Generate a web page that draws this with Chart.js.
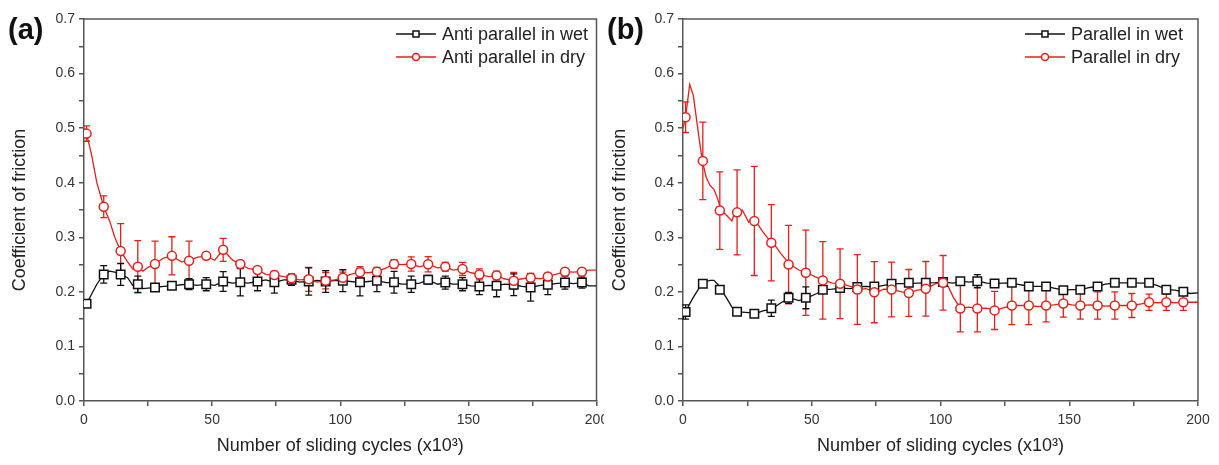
<!DOCTYPE html>
<html>
<head>
<meta charset="utf-8">
<script src="https://cdn.jsdelivr.net/npm/chart.js@4.4.0/dist/chart.umd.min.js"></script>
<style>
body{margin:0;background:#fff;width:1219px;height:465px;position:relative;overflow:hidden;font-family:"Liberation Sans",Arial,sans-serif;}
canvas{position:absolute;top:0;}
#chartA{left:0;}
#chartB{left:604px;}
.tag{position:absolute;font-weight:bold;font-size:29px;line-height:29px;color:#111;}
</style>
</head>
<body>
<canvas id="chartA" width="604" height="465"></canvas>
<canvas id="chartB" width="615" height="465"></canvas>
<div class="tag" style="left:8px;top:15px">(a)</div>
<div class="tag" style="left:607px;top:15px">(b)</div>
<script>
// sliding cycles (x10^3) where markers + error bars sit, same for every series
var markerCycles = [1, 7.7, 14.3, 21, 27.7, 34.3, 41, 47.7, 54.3, 61, 67.7, 74.3, 81, 87.7, 94.3,
    101, 107.7, 114.3, 121, 127.7, 134.3, 141, 147.7, 154.3, 161, 167.7, 174.3, 181, 187.7, 194.3];

// (a) anti parallel
var aWetMarks = [0.178, 0.232, 0.232, 0.214, 0.208, 0.211, 0.214, 0.214, 0.219, 0.2175, 0.219, 0.2175, 0.222, 0.219, 0.219,
    0.2205, 0.2175, 0.2205, 0.2175, 0.214, 0.222, 0.217, 0.214, 0.21, 0.211, 0.213, 0.208, 0.213, 0.217, 0.217];
var aWetErr = [0.006, 0.016, 0.02, 0.015, 0.006, 0.006, 0.01, 0.012, 0.018, 0.025, 0.017, 0.02, 0.01, 0.025, 0.02,
    0.02, 0.025, 0.02, 0.02, 0.015, 0.008, 0.012, 0.012, 0.015, 0.02, 0.02, 0.025, 0.018, 0.012, 0.01];
var aDryMarks = [0.49, 0.356, 0.275, 0.246, 0.251, 0.266, 0.257, 0.266, 0.277, 0.251, 0.24, 0.231, 0.225, 0.223, 0.2205,
    0.226, 0.236, 0.237, 0.251, 0.251, 0.2505, 0.246, 0.242, 0.232, 0.23, 0.2205, 0.226, 0.228, 0.237, 0.237];
var aDryErr = [0.014, 0.02, 0.05, 0.048, 0.042, 0.035, 0.036, 0.006, 0.021, 0.006, 0.005, 0.006, 0.008, 0.022, 0.015,
    0.01, 0.01, 0.008, 0.008, 0.013, 0.014, 0.008, 0.012, 0.01, 0.008, 0.015, 0.008, 0.006, 0.006, 0.006];

// (a) full friction traces
var aTraceX = [0, 1, 3, 5, 7.7, 10, 12, 14.3, 17, 19, 21, 23, 25, 27.7, 31, 34.3, 38, 41, 44, 47.7, 51, 54.3, 58, 61, 64,
    67.7, 71, 74.3, 78, 81, 84, 87.7, 91, 94.3, 98, 101, 104, 107.7, 111, 114.3, 118, 121, 124, 127.7, 131, 134.3, 138,
    141, 144, 147.7, 151, 154.3, 158, 161, 164, 167.7, 171, 174.3, 178, 181, 184, 187.7, 191, 194.3, 197, 200];
var aWetTrace = [0.172, 0.178, 0.196, 0.214, 0.232, 0.238, 0.236, 0.232, 0.226, 0.212, 0.214, 0.206, 0.207, 0.208, 0.21,
    0.211, 0.213, 0.214, 0.212, 0.214, 0.212, 0.219, 0.216, 0.2175, 0.216, 0.219, 0.222, 0.2175, 0.222, 0.222, 0.218,
    0.219, 0.221, 0.219, 0.221, 0.2205, 0.219, 0.2175, 0.219, 0.2205, 0.217, 0.2175, 0.214, 0.214, 0.216, 0.222, 0.214,
    0.217, 0.214, 0.214, 0.211, 0.21, 0.212, 0.211, 0.214, 0.213, 0.21, 0.208, 0.212, 0.213, 0.215, 0.217, 0.215, 0.217,
    0.211, 0.211];
var aDryTrace = [0.50, 0.49, 0.45, 0.40, 0.356, 0.33, 0.30, 0.275, 0.255, 0.242, 0.246, 0.238, 0.245, 0.251, 0.262,
    0.266, 0.255, 0.257, 0.263, 0.266, 0.258, 0.277, 0.258, 0.251, 0.243, 0.24, 0.232, 0.231, 0.228, 0.225, 0.222,
    0.223, 0.218, 0.2205, 0.222, 0.226, 0.232, 0.236, 0.235, 0.237, 0.244, 0.251, 0.25, 0.251, 0.246, 0.2505, 0.244,
    0.246, 0.24, 0.242, 0.235, 0.232, 0.228, 0.23, 0.224, 0.2205, 0.224, 0.226, 0.224, 0.228, 0.232, 0.237, 0.236,
    0.237, 0.24, 0.24];

// (b) parallel
var bWetMarks = [0.163, 0.215, 0.204, 0.1635, 0.160, 0.17, 0.189, 0.189, 0.204, 0.207, 0.209, 0.21, 0.215, 0.2166, 0.2166,
    0.218, 0.2195, 0.2195, 0.2153, 0.2166, 0.21, 0.21, 0.203, 0.204, 0.21, 0.2166, 0.2166, 0.2166, 0.204, 0.2];
var bWetErr = [0.013, 0, 0, 0, 0, 0.015, 0.01, 0.02, 0, 0, 0, 0, 0, 0, 0,
    0, 0, 0.012, 0, 0, 0, 0, 0, 0, 0, 0, 0, 0, 0, 0];
var bDryMarks = [0.52, 0.44, 0.349, 0.3457, 0.33, 0.29, 0.25, 0.235, 0.221, 0.2148, 0.2043, 0.1994, 0.2043, 0.198, 0.2056,
    0.2166, 0.1696, 0.1696, 0.166, 0.175, 0.175, 0.175, 0.1787, 0.175, 0.175, 0.175, 0.175, 0.181, 0.181, 0.181];
var bDryErr = [0.028, 0.071, 0.071, 0.078, 0.1, 0.07, 0.072, 0.078, 0.071, 0.064, 0.064, 0.056, 0.05, 0.043, 0.05,
    0.05, 0.043, 0.043, 0.035, 0.035, 0.035, 0.03, 0.025, 0.025, 0.025, 0.025, 0.022, 0.015, 0.015, 0.015];

var bTraceX = [0, 1, 2.6, 4, 6, 7.5, 9, 10.5, 12, 13.5, 14.8, 17, 19, 20, 21.6, 23, 25.5, 27, 28.2, 31, 33, 35, 38, 41.6,
    45, 48.2, 52, 55, 58, 61.6, 65, 68, 71, 75, 78, 81.5, 85, 88, 91, 94.7, 98, 101, 103, 105, 107.8, 111, 114.5, 118,
    121.4, 124, 127.8, 131, 134.5, 138, 141, 144, 148, 151, 154.5, 158, 161, 164, 168, 171, 174.5, 178, 181, 184, 188,
    191, 194.5, 197, 200];
var bWetTrace = [0.15, 0.163, 0.178, 0.19, 0.205, 0.215, 0.219, 0.221, 0.221, 0.214, 0.204, 0.188, 0.172, 0.166, 0.1635,
    0.163, 0.162, 0.161, 0.160, 0.165, 0.167, 0.17, 0.18, 0.189, 0.184, 0.189, 0.197, 0.204, 0.205, 0.207, 0.206, 0.209,
    0.21, 0.209, 0.212, 0.215, 0.215, 0.215, 0.216, 0.2166, 0.217, 0.218, 0.217, 0.216, 0.2195, 0.218, 0.2195, 0.216,
    0.2153, 0.216, 0.2166, 0.213, 0.21, 0.21, 0.21, 0.207, 0.203, 0.204, 0.204, 0.208, 0.21, 0.214, 0.2166, 0.2166,
    0.2166, 0.216, 0.2166, 0.212, 0.204, 0.203, 0.2, 0.197, 0.198];
var bDryTrace = [0.50, 0.52, 0.58, 0.56, 0.49, 0.44, 0.41, 0.395, 0.388, 0.37, 0.349, 0.34, 0.33, 0.345, 0.345, 0.35,
    0.328, 0.336, 0.33, 0.31, 0.298, 0.29, 0.27, 0.25, 0.24, 0.235, 0.226, 0.221, 0.216, 0.215, 0.21, 0.204, 0.206,
    0.199, 0.205, 0.204, 0.2, 0.198, 0.203, 0.2056, 0.215, 0.2166, 0.21, 0.19, 0.1696, 0.172, 0.1696, 0.17, 0.166, 0.17,
    0.175, 0.175, 0.175, 0.173, 0.175, 0.176, 0.1787, 0.176, 0.175, 0.176, 0.175, 0.174, 0.175, 0.175, 0.175, 0.178,
    0.181, 0.18, 0.181, 0.18, 0.181, 0.181, 0.181];

var RED = "#e3201c";
var BLACK = "#111111";
var AXIS = "#555555";

Chart.defaults.font.family = '"Liberation Sans", Arial, sans-serif';

function pts(xs, ys){
    return xs.map(function(x, i){ return {x: x, y: ys[i]}; });
}

// vertical error bars with caps, drawn under the markers
var errorBars = {
    id: "errorBars",
    beforeDatasetsDraw: function(chart){
        var ctx = chart.ctx, xs = chart.scales.x, ys = chart.scales.y;
        chart.data.datasets.forEach(function(ds){
            if(!ds.errors) return;
            ctx.save();
            ctx.strokeStyle = ds.borderColor;
            ctx.lineWidth = 1.3;
            ds.data.forEach(function(p, i){
                var e = ds.errors[i];
                if(!e) return;
                var px = xs.getPixelForValue(p.x);
                var top = ys.getPixelForValue(p.y + e);
                var bot = ys.getPixelForValue(p.y - e);
                ctx.beginPath();
                ctx.moveTo(px, top); ctx.lineTo(px, bot);
                ctx.moveTo(px - 3.5, top); ctx.lineTo(px + 3.5, top);
                ctx.moveTo(px - 3.5, bot); ctx.lineTo(px + 3.5, bot);
                ctx.stroke();
            });
            ctx.restore();
        });
    }
};

// top + right border of the plot box
var frame = {
    id: "frame",
    beforeDatasetsDraw: function(chart){
        var a = chart.chartArea, ctx = chart.ctx;
        ctx.save();
        ctx.strokeStyle = AXIS;
        ctx.lineWidth = 1.5;
        ctx.beginPath();
        ctx.moveTo(a.left, a.top);
        ctx.lineTo(a.right, a.top);
        ctx.lineTo(a.right, a.bottom);
        ctx.stroke();
        ctx.restore();
    }
};

// legend with line + marker like the origin plot
var lineLegend = {
    id: "lineLegend",
    afterDraw: function(chart, args, opts){
        var ctx = chart.ctx;
        var items = chart.data.datasets.filter(function(ds){ return ds.legendRow !== undefined; });
        items.sort(function(p, q){ return p.legendRow - q.legendRow; });
        ctx.save();
        ctx.font = '18px "Liberation Sans", Arial, sans-serif';
        ctx.textBaseline = "middle";
        items.forEach(function(ds, i){
            var y = chart.chartArea.top + 15 + i * 23;
            var tx = opts.textX;
            ctx.strokeStyle = ds.borderColor;
            ctx.lineWidth = 1.5;
            ctx.beginPath();
            ctx.moveTo(tx - 46, y); ctx.lineTo(tx - 6, y);
            ctx.stroke();
            ctx.fillStyle = "#fff";
            ctx.beginPath();
            if(ds.pointStyle === "rect") ctx.rect(tx - 29, y - 3, 6, 6);
            else ctx.arc(tx - 26, y, 3.5, 0, Math.PI * 2);
            ctx.fill();
            ctx.stroke();
            ctx.fillStyle = "#222";
            ctx.fillText(ds.label, tx, y + 1);
        });
        ctx.restore();
    }
};

function makeChart(id, traceX, wetTrace, dryTrace, wetMarks, wetErr, dryMarks, dryErr, names, cfg){
    return new Chart(document.getElementById(id), {
        type: "line",
        data: {
            datasets: [
                {label: names[1], data: pts(markerCycles, dryMarks), errors: dryErr, legendRow: 1,
                 showLine: false, pointStyle: "circle", pointRadius: 4.5, pointBorderWidth: 1.5,
                 borderColor: RED, backgroundColor: "#fff", pointBackgroundColor: "#fff"},
                {label: names[0], data: pts(markerCycles, wetMarks), errors: wetErr, legendRow: 0,
                 showLine: false, pointStyle: "rect", pointRadius: 6, pointBorderWidth: 1.5,
                 borderColor: BLACK, backgroundColor: "#fff", pointBackgroundColor: "#fff"},
                {label: "dry trace", data: pts(traceX, dryTrace), borderColor: RED, borderWidth: 1.3,
                 pointRadius: 0, tension: 0, fill: false},
                {label: "wet trace", data: pts(traceX, wetTrace), borderColor: BLACK, borderWidth: 1.3,
                 pointRadius: 0, tension: 0, fill: false}
            ]
        },
        options: {
            responsive: false,
            animation: false,
            events: [],
            layout: {padding: {top: 19, right: cfg.padRight, left: 0, bottom: 0}},
            plugins: {
                legend: {display: false},
                tooltip: {enabled: false},
                lineLegend: {textX: cfg.textX}
            },
            scales: {
                x: {
                    type: "linear", min: 0, max: 200,
                    ticks: {stepSize: 25, autoSkip: false, maxRotation: 0, color: "#333", font: {size: 14}, padding: 6,
                        callback: function(v){ return v % 50 === 0 ? String(v) : ""; }},
                    grid: {drawOnChartArea: false, drawTicks: true, tickLength: 5, color: AXIS, lineWidth: 1.5},
                    border: {display: true, color: AXIS, width: 1.5},
                    title: {display: true, text: "Number of sliding cycles (x10\u00B3)", color: "#222",
                        font: {size: 18}, padding: {bottom: 8, top: 0}},
                    afterFit: function(s){ s.height = 64; s.paddingLeft = 0; s.paddingRight = 0; }
                },
                y: {
                    min: 0, max: 0.7,
                    ticks: {stepSize: 0.05, autoSkip: false, color: "#333", font: {size: 14}, padding: 4,
                        callback: function(v){
                            var t = Math.round(v * 100);
                            return t % 10 === 0 ? (t / 100).toFixed(1) : "";
                        }},
                    grid: {drawOnChartArea: false, drawTicks: true, tickLength: 5, color: AXIS, lineWidth: 1.5},
                    border: {display: true, color: AXIS, width: 1.5},
                    title: {display: true, text: "Coefficient of friction", color: "#222",
                        font: {size: 18}, padding: {top: cfg.titlePad, bottom: 0}},
                    afterFit: function(s){ s.width = cfg.yWidth; s.paddingTop = 0; s.paddingBottom = 0; }
                }
            }
        },
        plugins: [frame, errorBars, lineLegend]
    });
}

makeChart("chartA", aTraceX, aWetTrace, aDryTrace, aWetMarks, aWetErr, aDryMarks, aDryErr,
    ["Anti parallel in wet", "Anti parallel in dry"],
    {padRight: 7, yWidth: 84, titlePad: 9, textX: 442});

makeChart("chartB", bTraceX, bWetTrace, bDryTrace, bWetMarks, bWetErr, bDryMarks, bDryErr,
    ["Parallel in wet", "Parallel in dry"],
    {padRight: 21, yWidth: 79, titlePad: 5, textX: 467});
</script>
</body>
</html>
